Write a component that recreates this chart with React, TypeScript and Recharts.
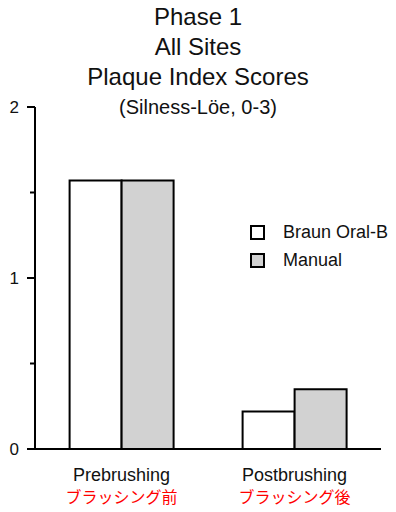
import { BarChart, Bar, XAxis, YAxis } from 'recharts';

const categories = ['Prebrushing', 'Postbrushing'];
const categoriesJa = ['ブラッシング前', 'ブラッシング後'];
const braunOralB = [1.57, 0.22];
const manual = [1.57, 0.35];
const yTicks = [0, 0.5, 1, 1.5, 2];
const titleLines = ['Phase 1', 'All Sites', 'Plaque Index Scores'];
const subtitle = '(Silness-Löe, 0-3)';
const seriesNames = ['Braun Oral-B', 'Manual'];
const seriesFills = ['#ffffff', '#d2d2d2'];

const data = categories.map((name, i) => ({
  name,
  braun: braunOralB[i],
  manual: manual[i],
}));

const FONT = '"Liberation Sans", Arial, Helvetica, sans-serif';

function YTick(props: any) {
  const { x, y, payload } = props;
  const major = Number.isInteger(payload.value);
  return (
    <g>
      <line x1={major ? x : x + 3} x2={x + 8} y1={y} y2={y} stroke="#000" strokeWidth={2} />
      {major && (
        <text x={x - 8} y={y} dy={6} textAnchor="end" fontSize={17} fill="#111" fontFamily={FONT}>
          {payload.value}
        </text>
      )}
    </g>
  );
}

function XTick(props: any) {
  const { x, y, index } = props;
  return (
    <g>
      <text x={x} y={y} dy={24} textAnchor="middle" fontSize={18} fill="#111" fontFamily={FONT}>
        {categories[index]}
      </text>
      <text x={x} y={y} dy={46} textAnchor="middle" fontSize={16} fill="#ff0000" fontFamily='"Noto Sans CJK JP", sans-serif'>
        {categoriesJa[index]}
      </text>
    </g>
  );
}

function LegendBox() {
  return (
    <div style={{ position: 'absolute', left: 250, top: 218, fontFamily: FONT, fontSize: 18, color: '#111' }}>
      {seriesNames.map((label, i) => (
        <div key={label} style={{ display: 'flex', alignItems: 'center', height: 28 }}>
          <span
            style={{
              width: 11,
              height: 11,
              border: '2px solid #000',
              background: seriesFills[i],
              marginRight: 18,
              display: 'inline-block',
            }}
          />
          <span>{label}</span>
        </div>
      ))}
    </div>
  );
}

export default function App() {
  return (
    <div style={{ position: 'absolute', left: 0, top: 0, width: 396, height: 512, background: '#fff' }}>
      <div
        style={{
          position: 'absolute',
          left: 0,
          top: 2,
          width: 396,
          textAlign: 'center',
          fontFamily: FONT,
          color: '#111',
          zIndex: 2,
        }}
      >
        {titleLines.map((t) => (
          <div key={t} style={{ fontSize: 24, lineHeight: '30px' }}>
            {t}
          </div>
        ))}
        <div style={{ fontSize: 20, lineHeight: '30px' }}>{subtitle}</div>
      </div>
      <BarChart
        width={396}
        height={512}
        data={data}
        margin={{ top: 107, right: 15, bottom: 13, left: 5 }}
        barCategoryGap="20%"
        barGap={0}
      >
        <XAxis
          dataKey="name"
          height={50}
          axisLine={{ stroke: '#000', strokeWidth: 2 }}
          tickLine={false}
          tick={<XTick />}
          interval={0}
        />
        <YAxis
          width={30}
          domain={[0, 2]}
          ticks={yTicks}
          interval={0}
          axisLine={{ stroke: '#000', strokeWidth: 2 }}
          tickLine={false}
          tick={<YTick />}
        />
        <Bar dataKey="braun" name={seriesNames[0]} fill={seriesFills[0]} stroke="#000" strokeWidth={2} isAnimationActive={false} />
        <Bar dataKey="manual" name={seriesNames[1]} fill={seriesFills[1]} stroke="#000" strokeWidth={2} isAnimationActive={false} />
      </BarChart>
      <LegendBox />
    </div>
  );
}
